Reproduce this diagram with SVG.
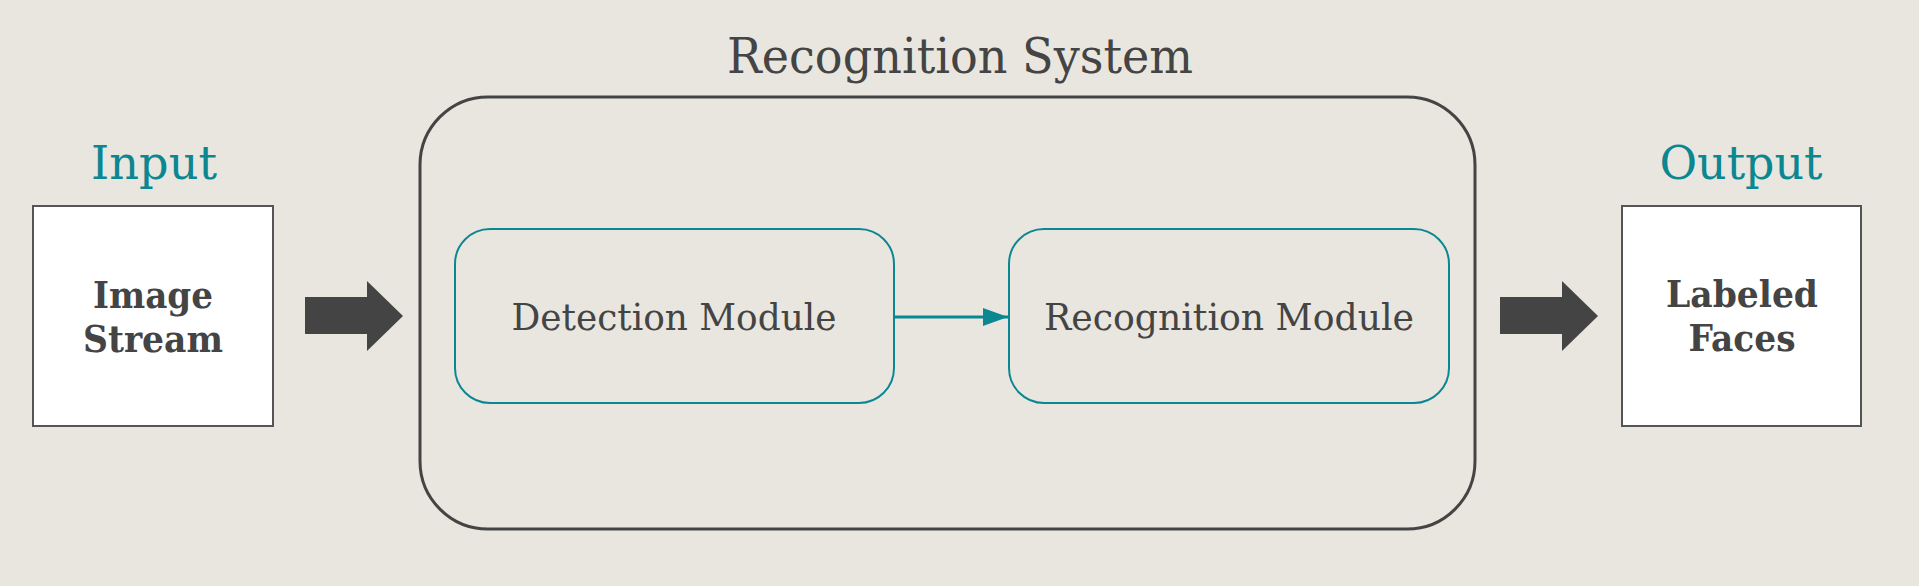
<svg xmlns="http://www.w3.org/2000/svg" width="1919" height="586" viewBox="0 0 1919 586">
<defs>
<style>
.bg{fill:#e9e6df}
.io{fill:#ffffff;stroke:#555555;stroke-width:2}
.mod{fill:none;stroke:#0b8791;stroke-width:2}
.sys{fill:none;stroke:#444444;stroke-width:3}
.head{font-family:"DejaVu Serif","Liberation Serif",serif;font-size:47px;fill:#0b8791;text-anchor:middle}
.title{font-family:"DejaVu Serif","Liberation Serif",serif;font-size:48px;fill:#444444;text-anchor:middle}
.bold{font-family:"DejaVu Serif","Liberation Serif",serif;font-size:37px;font-weight:bold;fill:#444444;text-anchor:middle}
.mtxt{font-family:"DejaVu Serif","Liberation Serif",serif;font-size:37px;fill:#444444;text-anchor:middle}
.fat{fill:#444444}
</style>
<marker id="ah" markerWidth="25" markerHeight="18" refX="25" refY="9" orient="auto" markerUnits="userSpaceOnUse" viewBox="0 0 25 18">
<path d="M0,0 L25,9 L0,18 Z" fill="#0b8791"/>
</marker>
</defs>
<rect class="bg" x="0" y="0" width="1919" height="586"/>
<g id="input">
<text class="head" x="154" y="179" textLength="126" lengthAdjust="spacingAndGlyphs">Input</text>
<rect class="io" x="33" y="206" width="240" height="220"/>
<text class="bold" x="153" y="308" textLength="120" lengthAdjust="spacingAndGlyphs">Image</text>
<text class="bold" x="153" y="352" textLength="140" lengthAdjust="spacingAndGlyphs">Stream</text>
</g>
<g id="system">
<text class="title" x="960" y="73" textLength="466" lengthAdjust="spacingAndGlyphs">Recognition System</text>
<rect class="sys" x="420" y="97" width="1055" height="432" rx="68" ry="68"/>
</g>
<g id="detection">
<rect class="mod" x="455" y="229" width="439" height="174" rx="35" ry="35"/>
<text class="mtxt" x="674" y="330" textLength="325" lengthAdjust="spacingAndGlyphs">Detection Module</text>
</g>
<g id="recognition">
<rect class="mod" x="1009" y="229" width="440" height="174" rx="35" ry="35"/>
<text class="mtxt" x="1229" y="330" textLength="370" lengthAdjust="spacingAndGlyphs">Recognition Module</text>
</g>
<g id="output">
<text class="head" x="1741" y="179" textLength="163" lengthAdjust="spacingAndGlyphs">Output</text>
<rect class="io" x="1622" y="206" width="239" height="220"/>
<text class="bold" x="1742" y="307" textLength="152" lengthAdjust="spacingAndGlyphs">Labeled</text>
<text class="bold" x="1742" y="351" textLength="107" lengthAdjust="spacingAndGlyphs">Faces</text>
</g>
<g id="connectors">
<path class="fat" d="M305,297 L367,297 L367,281 L403,316 L367,351 L367,334 L305,334 Z"/>
<path class="fat" d="M1500,297 L1562,297 L1562,281 L1598,316 L1562,351 L1562,334 L1500,334 Z"/>
<line x1="894" y1="317" x2="1008" y2="317" stroke="#0b8791" stroke-width="3" marker-end="url(#ah)"/>
</g>
</svg>
